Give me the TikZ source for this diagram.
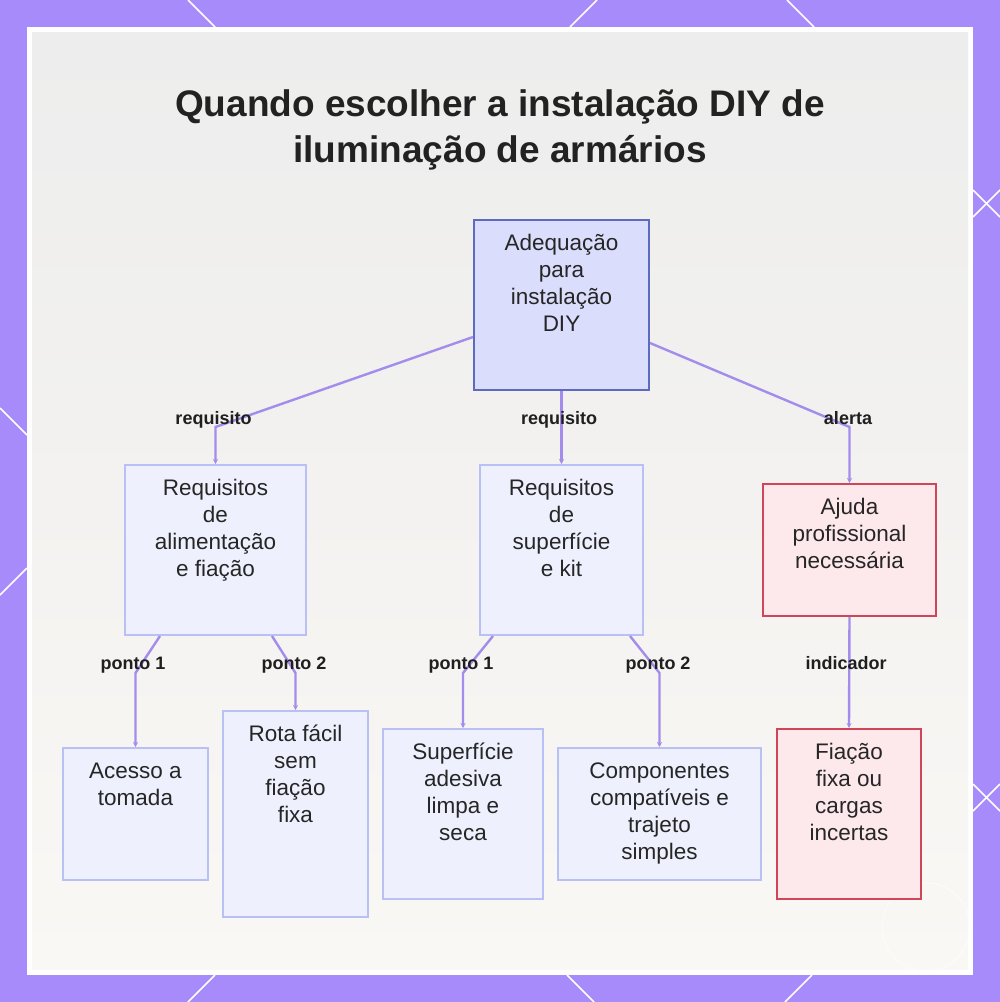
\documentclass[tikz,border=0pt]{standalone}
\usepackage{fontspec}
\setmainfont{Liberation Sans}
\usetikzlibrary{arrows.meta}
\definecolor{bgpurple}{HTML}{A78BFA}
\definecolor{edgec}{HTML}{A48CEC}
\definecolor{rootfill}{HTML}{DADDFC}
\definecolor{rootdraw}{HTML}{5C6BC0}
\definecolor{lfill}{HTML}{EEF1FD}
\definecolor{ldraw}{HTML}{B9C1F4}
\definecolor{rfill}{HTML}{FDE8EB}
\definecolor{rdraw}{HTML}{CF4559}
\definecolor{txt}{HTML}{262626}
\definecolor{titlec}{HTML}{222222}
\newcommand{\mlines}[1]{\begin{tabular}[t]{@{}c@{}}#1\end{tabular}}
\tikzset{
  boxbase/.style={line width=2pt, inner sep=0pt},
  rootbox/.style={boxbase, draw=rootdraw, fill=rootfill},
  lbox/.style={boxbase, draw=ldraw, fill=lfill},
  rbox/.style={boxbase, draw=rdraw, fill=rfill},
  boxtext/.style={anchor=base, inner sep=0pt, text=txt, font=\fontsize{22.5}{27}\selectfont},
  elabel/.style={anchor=base, inner sep=0pt, text=black!88, font=\bfseries\fontsize{18}{22}\selectfont},
  edge/.style={draw=edgec, line width=2.4pt, -{Stealth[length=5pt,width=5pt]}},
  titletext/.style={anchor=base, inner sep=0pt, text=titlec, font=\bfseries\fontsize{37}{44}\selectfont},
  frameline/.style={white, line width=1.6pt}
}
\begin{document}
\begin{tikzpicture}[x=1pt,y=-1pt]
\useasboundingbox (0,0) rectangle (1000,1002);
% background
\fill[bgpurple] (0,0) rectangle (1000,1002);
\draw[frameline] (188,0) -- (215,27);
\draw[frameline] (570,27) -- (597,0);
\draw[frameline] (787,0) -- (814,27);
\draw[frameline] (0,408) -- (27,435);
\draw[frameline] (0,595) -- (27,568);
\draw[frameline] (973,190) -- (1000,217);
\draw[frameline] (973,217) -- (1000,190);
\draw[frameline] (973,784) -- (1000,811);
\draw[frameline] (973,811) -- (1000,784);
\draw[frameline] (215,975) -- (188,1002);
\draw[frameline] (567,975) -- (594,1002);
\draw[frameline] (812,975) -- (785,1002);
\fill[white] (27,27) rectangle (973,975);
\shade[top color={rgb,255:red,237;green,237;blue,237}, bottom color={rgb,255:red,250;green,248;blue,245}, middle color={rgb,255:red,243;green,242;blue,240}] (32,32) rectangle (968,969);
\draw[white, opacity=0.7, line width=0.8pt] (926,927) circle (44);

% title
\node[titletext] (title1) at (500,116) {Quando escolher a instalação DIY de};
\node[titletext] (title2) at (500,162) {iluminação de armários};

% boxes
\node[rootbox, minimum width=175pt, minimum height=170pt] (root) at (561.5,305) {};
\node[lbox, minimum width=181pt, minimum height=170pt] (req1) at (215.5,550) {};
\node[lbox, minimum width=163pt, minimum height=170pt] (req2) at (561.5,550) {};
\node[rbox, minimum width=173pt, minimum height=132pt] (ajuda) at (849.5,550) {};
\node[lbox, minimum width=145pt, minimum height=132pt] (acesso) at (135.5,814) {};
\node[lbox, minimum width=145pt, minimum height=206pt] (rota) at (295.5,814) {};
\node[lbox, minimum width=160pt, minimum height=170pt] (superf) at (463,814) {};
\node[lbox, minimum width=203pt, minimum height=132pt] (comp) at (659.5,814) {};
\node[rbox, minimum width=144pt, minimum height=170pt] (fiacao) at (849,814) {};

% box texts
\node[boxtext] (roott) at (561.5,250) {\mlines{Adequação\\para\\instalação\\DIY}};
\node[boxtext] (req1t) at (215.5,495) {\mlines{Requisitos\\de\\alimentação\\e fiação}};
\node[boxtext] (req2t) at (561.5,495) {\mlines{Requisitos\\de\\superfície\\e kit}};
\node[boxtext] (ajudat) at (849.5,514) {\mlines{Ajuda\\profissional\\necessária}};
\node[boxtext] (acessot) at (135.5,778) {\mlines{Acesso a\\tomada}};
\node[boxtext] (rotat) at (295.5,741) {\mlines{Rota fácil\\sem\\fiação\\fixa}};
\node[boxtext] (superft) at (463,759) {\mlines{Superfície\\adesiva\\limpa e\\seca}};
\node[boxtext] (compt) at (659.5,778) {\mlines{Componentes\\compatíveis e\\trajeto\\simples}};
\node[boxtext] (fiacaot) at (849,759) {\mlines{Fiação\\fixa ou\\cargas\\incertas}};

% connectors
\draw[edge] ([yshift=-32pt]root.west) -- (req1.north |- 0,427) -- (req1.north);
\draw[edge] (root.south) -- (req2.north);
\draw[edge] ([yshift=-38pt]root.east) -- (ajuda.north |- 0,427) -- (ajuda.north);
\draw[edge] ([xshift=-55.5pt]req1.south) -- (acesso.north |- 0,673) -- (acesso.north);
\draw[edge] ([xshift=56.5pt]req1.south) -- (rota.north |- 0,673) -- (rota.north);
\draw[edge] ([xshift=-68.5pt]req2.south) -- (superf.north |- 0,673) -- (superf.north);
\draw[edge] ([xshift=68.5pt]req2.south) -- (comp.north |- 0,673) -- (comp.north);
\draw[edge] (ajuda.south) -- (fiacao.north);

% labels
\node[elabel] (l1) at (213.5,424) {requisito};
\node[elabel] (l2) at (559,424) {requisito};
\node[elabel] (l3) at (848,424) {alerta};
\node[elabel] (l4) at (133,669) {ponto 1};
\node[elabel] (l5) at (294,669) {ponto 2};
\node[elabel] (l6) at (461,669) {ponto 1};
\node[elabel] (l7) at (658,669) {ponto 2};
\node[elabel] (l8) at (846,669) {indicador};
\end{tikzpicture}
\end{document}
